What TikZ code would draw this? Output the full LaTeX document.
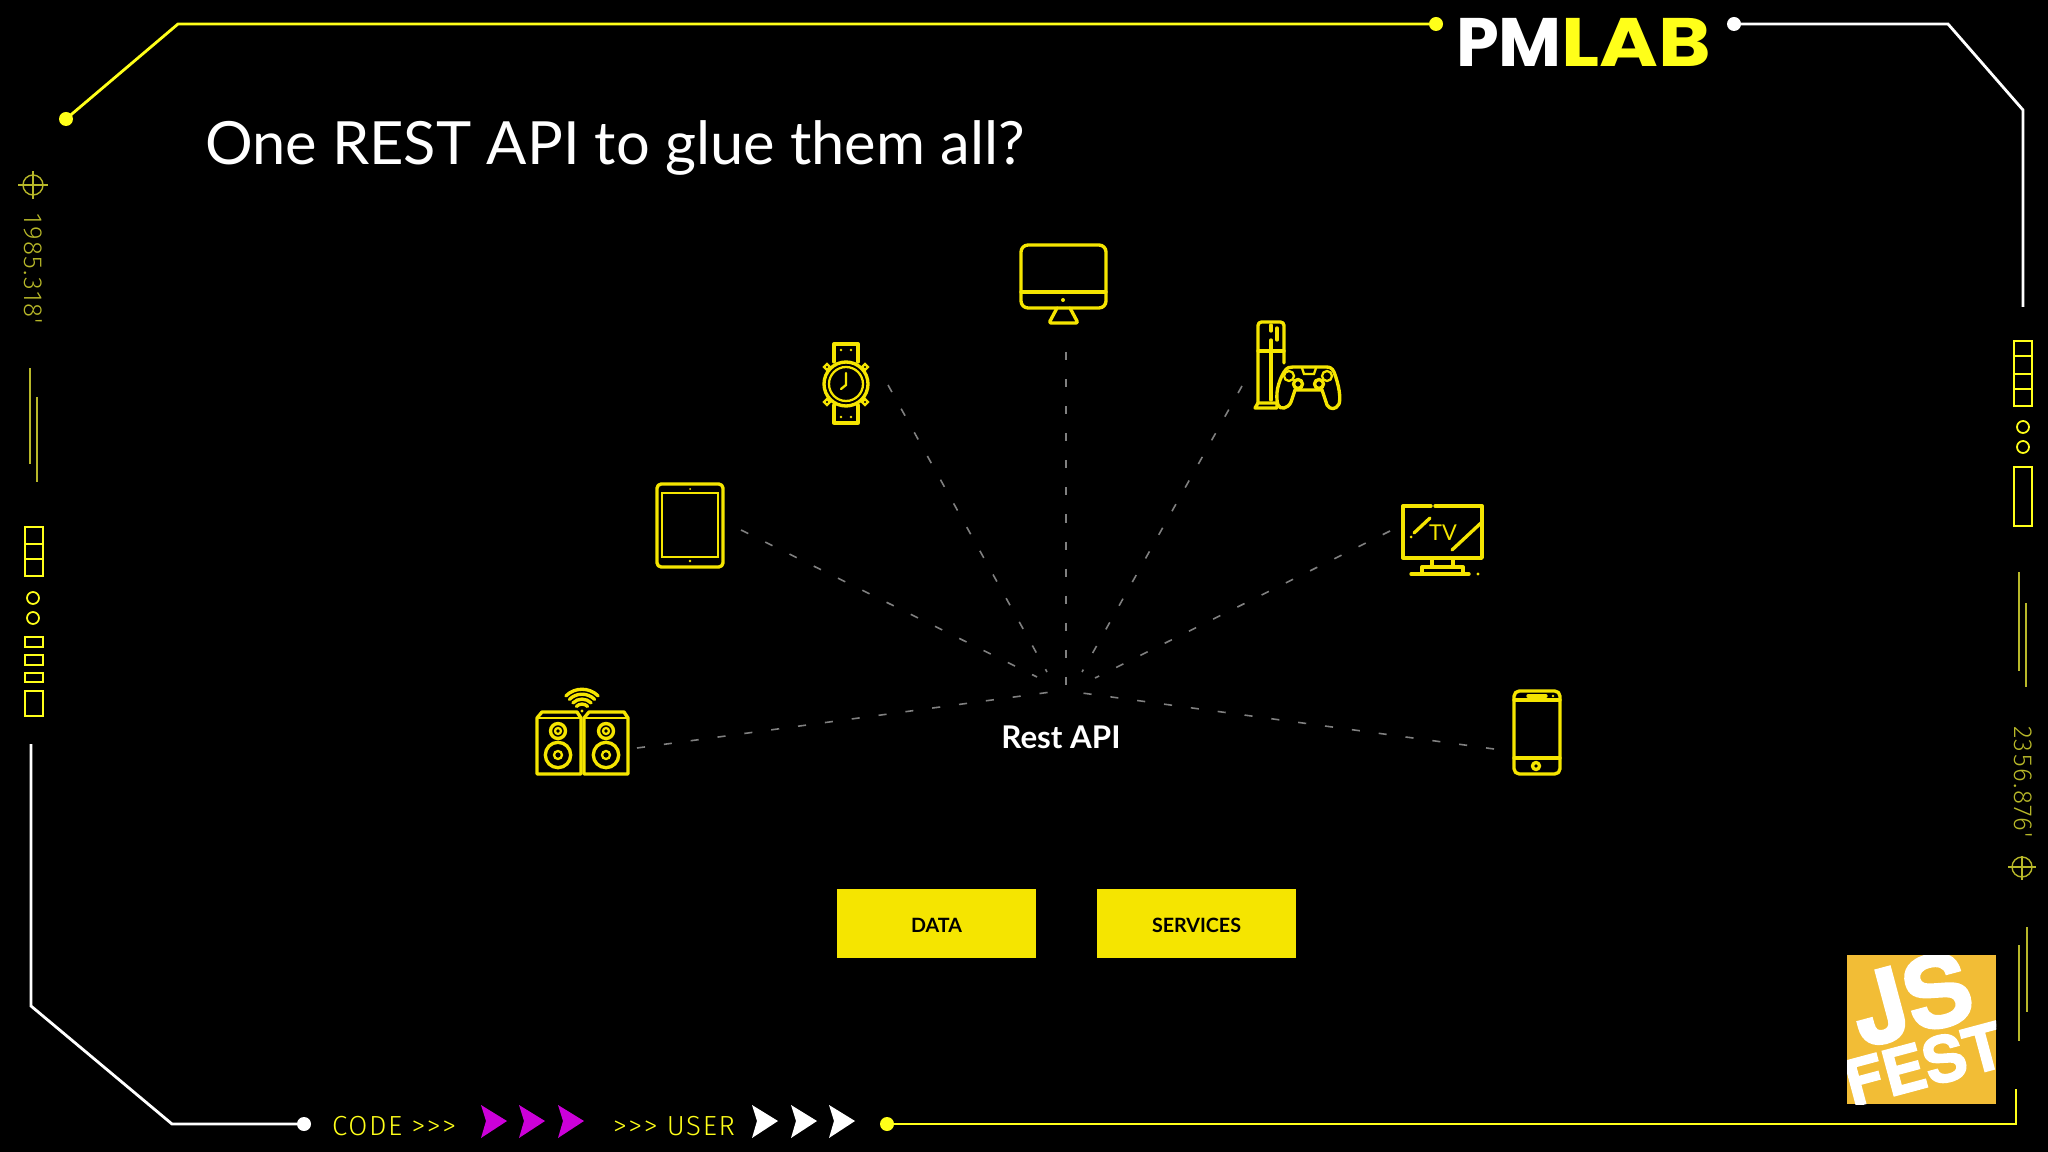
\documentclass[tikz,border=0pt]{standalone}
\usepackage{fontspec}
\setmainfont{Lato}
\newfontfamily\hudfont{Fira Sans Light}[LetterSpace=6]
\newfontfamily\logofont{Poppins}
\newfontfamily\festfont{TeX Gyre Heros}[BoldFeatures={FakeBold=2.2}]
\definecolor{coloricon}{rgb}{0.96, 0.90, 0.00}
\definecolor{colorframe}{rgb}{1.00, 1.00, 0.10}
\definecolor{colorhud}{rgb}{0.72, 0.72, 0.16}
\definecolor{colorray}{rgb}{0.50, 0.50, 0.50}
\definecolor{colorplay}{rgb}{0.80, 0.00, 0.85}
\definecolor{colorfest}{rgb}{0.95, 0.74, 0.21}

\begin{document}
\begin{tikzpicture}[x=0.01cm,y=-0.01cm,every node/.style={inner sep=0pt, outer sep=0pt},
  iconline/.style={draw=coloricon,line width=0.95pt,line join=round,line cap=round},
  iconfine/.style={draw=coloricon,line width=0.65pt,line cap=round},
  rayline/.style={draw=colorray,line width=0.45pt,dash pattern=on 2.3pt off 5.4pt},
  framewhite/.style={draw=white,line width=0.8pt},
  frameyellow/.style={draw=colorframe,line width=0.8pt},
  hudline/.style={draw=colorhud,line width=0.4pt},
  hudbox/.style={draw=colorframe,line width=0.5pt},
  apibox/.style={fill=coloricon,minimum width=199*0.01cm,minimum height=69*0.01cm,text=black,text height=5.2pt,text depth=0pt,font=\fontsize{5.6}{7}\selectfont\bfseries},
  hudtext/.style={text=colorhud,font=\hudfont\fontsize{7.4}{9}\selectfont}]

\fill[black] (0,0) rectangle (2048,1152);

% frame
\coordinate (dottopleft) at (66,119);
\coordinate (dottopmid) at (1436,24);
\coordinate (dottopright) at (1734,24);
\coordinate (dotbotleft) at (304,1124);
\coordinate (dotbotmid) at (887,1124);
\draw[frameyellow] (dottopleft) -- (178,24) -- (dottopmid);
\draw[framewhite] (dottopright) -- (1948,24) -- (2023,110) -- (2023,307);
\draw[framewhite] (31,744) -- (31,1006) -- (172,1124) -- (dotbotleft);
\draw[frameyellow] (dotbotmid) -- (2016,1124) -- (2016,1089);
\fill[colorframe] (dottopleft) circle (7);
\fill[colorframe] (dottopmid) circle (7);
\fill[white] (dottopright) circle (7);
\fill[white] (dotbotleft) circle (7);
\fill[colorframe] (dotbotmid) circle (7);

% logo
\node[anchor=base west,text=white,font=\logofont\fontsize{19.5}{24}\selectfont\bfseries] (logopm) at (1456,67) {PM};
\node[anchor=base west,text=colorframe,font=\logofont\fontsize{19.5}{24}\selectfont\bfseries] (logolab) at (1561,67) {\scalebox{1.165}[1]{LAB}};

% title
\node[anchor=base west,text=white,font=\fontsize{16.95}{20}\selectfont] (title) at (205,165) {One REST API to glue them all?};

% left strip
\draw[hudline] (33,171) -- (33,199);
\draw[hudline] (18,185) -- (48,185);
\draw[hudline] (33,185) circle (10);
\node[hudtext,rotate=-90] (codeleft) at (33,269) {1985.318'};
\draw[hudline] (30,368) -- (30,464);
\draw[hudline] (37,397) -- (37,482);
\draw[hudbox] (25,527) rectangle (43,576);
\draw[hudbox] (25,544) -- (43,544);
\draw[hudbox] (25,559) -- (43,559);
\draw[hudbox] (33,598) circle (6);
\draw[hudbox] (33,618) circle (6);
\draw[hudbox] (25,637) rectangle (43,647);
\draw[hudbox] (25,655) rectangle (43,665);
\draw[hudbox] (25,673) rectangle (43,682);
\draw[hudbox] (25,691) rectangle (43,716);

% right strip
\draw[hudbox] (2014,341) rectangle (2032,406);
\draw[hudbox] (2014,356) -- (2032,356);
\draw[hudbox] (2014,374) -- (2032,374);
\draw[hudbox] (2014,389) -- (2032,389);
\draw[hudbox] (2023,427) circle (6);
\draw[hudbox] (2023,447) circle (6);
\draw[hudbox] (2014,467) rectangle (2032,526);
\draw[hudline] (2019,572) -- (2019,671);
\draw[hudline] (2026,603) -- (2026,687);
\node[hudtext,rotate=-90] (coderight) at (2023,782) {2356.876'};
\draw[hudline] (2022,856) -- (2022,880);
\draw[hudline] (2008,867) -- (2036,867);
\draw[hudline] (2022,867) circle (10);
\draw[hudline] (2019,945) -- (2019,1041);
\draw[hudline] (2027,927) -- (2027,1012);

% bottom strip
\node[anchor=base west,text=colorframe,font=\hudfont\fontsize{7.85}{10}\selectfont] (codelabel) at (332,1135) {CODE >{}>{}>};
\node[anchor=base west,text=colorframe,font=\hudfont\fontsize{7.85}{10}\selectfont] (userlabel) at (613,1135) {>{}>{}> USER};
\foreach \x in {481,519,558}
  \fill[colorplay] (\x,1105) -- ({\x+26},1121) -- (\x,1138) -- ({\x+5},1121) -- cycle;
\foreach \x in {752,791,829}
  \fill[white] (\x,1105) -- ({\x+26},1121) -- (\x,1138) -- ({\x+5},1121) -- cycle;

% monitor
\draw[iconline,rounded corners=2pt] (1021,245) rectangle (1106,308);
\draw[iconline] (1021,292) -- (1106,292);
\fill[coloricon] (1063,300) circle (2);
\draw[iconline,rounded corners=0.6pt] (1057,308) -- (1049,323) -- (1078,323) -- (1070,308);

% watch
\draw[iconline] (834,362) -- (834,344) -- (858,344) -- (858,362);
\draw[iconline] (834,405) -- (834,423) -- (858,423) -- (858,405);
\draw[iconline] (846,384) circle (22);
\draw[iconfine] (846,384) circle (17);
\draw[iconfine] (846,373) -- (846,385) -- (841,389);
\foreach \x/\y in {827/367,865/367,827/402,865/402}
  \draw[iconfine] (\x-3,\y) -- (\x,\y-3) -- (\x+3,\y) -- (\x,\y+3) -- cycle;
\foreach \x/\y in {841/350,851/350,841/417,851/417}
  \fill[coloricon] (\x,\y) circle (1.4);

% console
\draw[iconline,rounded corners=1pt] (1258,403) -- (1258,322) -- (1284,322) -- (1284,363);
\draw[iconline] (1258,351) -- (1284,351);
\draw[iconline] (1271,325) -- (1271,331);
\draw[iconline] (1271,340) -- (1271,400);
\draw[iconline] (1277,328) -- (1277,340);
\draw[iconline] (1255,408) -- (1258,403) -- (1277,403) -- (1277,408) -- cycle;
\draw[iconline] (1284,372) .. controls (1287,367) and (1290,367) .. (1293,367) -- (1326,367) .. controls (1330,367) and (1332,368) .. (1334,372) .. controls (1339,385) and (1341,398) .. (1339,404) .. controls (1336,410) and (1330,410) .. (1327,405) -- (1322,390) -- (1295,390) -- (1291,402) .. controls (1288,409) and (1280,410) .. (1278,405) .. controls (1275,395) and (1278,382) .. (1284,372);
\draw[iconfine] (1289,376) circle (5);
\draw[iconfine] (1327,376) circle (5);
\draw[iconline] (1298,384) circle (4.5);
\draw[iconline] (1319,384) circle (4.5);
\draw[iconfine] (1302,368) -- (1304,374) -- (1314,374) -- (1316,368);

% tv
\draw[iconline] (1431,506) -- (1403,506) -- (1403,558) -- (1482,558) -- (1482,506) -- (1435,506);
\fill[coloricon] (1429,506) circle (1.4);
\draw[iconline] (1414,533) -- (1430,518);
\fill[coloricon] (1411,537) circle (1.5);
\draw[iconline] (1452,550) -- (1482,522);
\node[text=coloricon,font=\fontsize{6.2}{7}\selectfont] (tvlabel) at (1443,533) {TV};
\draw[iconline] (1432,558) -- (1432,567);
\draw[iconline] (1453,558) -- (1453,567);
\draw[iconline] (1422,574) -- (1422,567) -- (1463,567) -- (1463,574);
\draw[iconline] (1411,574) -- (1469,574);
\fill[coloricon] (1478,574) circle (1.6);

% tablet
\draw[iconline,rounded corners=1.2pt] (657,484) rectangle (723,567);
\draw[iconfine] (662,493) rectangle (718,557);
\fill[coloricon] (690,489) circle (1);
\fill[coloricon] (690,561) circle (1.3);

% speakers
\draw[iconline] (537,718) -- (542,712) -- (577,712) -- (581,718) -- (581,774) -- (537,774) -- cycle;
\draw[iconline] (584,718) -- (589,712) -- (624,712) -- (628,718) -- (628,774) -- (584,774) -- cycle;
\draw[iconfine] (537,718) -- (581,718);
\draw[iconfine] (584,718) -- (628,718);
\foreach \x in {558,606} {
  \draw[iconline] (\x,731) circle (7.5);
  \draw[iconfine] (\x,731) circle (3);
  \draw[iconline] (\x,755) circle (12.7);
  \draw[iconfine] (\x,755) circle (4);
}
\foreach \r in {8,13,18,23}
  \draw[iconline] ({582-\r*0.7},{712-\r*0.7}) to[bend left=45] ({582+\r*0.7},{712-\r*0.7});
\fill[coloricon] (582,711) circle (1.6);

% phone
\draw[iconline,rounded corners=1.5pt] (1514,691) rectangle (1560,774);
\draw[iconline] (1514,700) -- (1560,700);
\draw[iconline] (1514,758) -- (1560,758);
\draw[iconline] (1528,696) -- (1546,696);
\fill[coloricon] (1553,696) circle (1.3);
\draw[iconline] (1536,766) circle (3.5);

% rays
\coordinate (portmonitor) at (1066,352);
\coordinate (hubmonitor) at (1066,688);
\coordinate (portwatch) at (888,385);
\coordinate (hubwatch) at (1047,672);
\coordinate (portconsole) at (1242,386);
\coordinate (hubconsole) at (1082,672);
\coordinate (porttv) at (1390,531);
\coordinate (hubtv) at (1095,678);
\coordinate (porttablet) at (741,530);
\coordinate (hubtablet) at (1037,677);
\coordinate (portspeakers) at (637,748);
\coordinate (hubspeakers) at (1051,692);
\coordinate (portphone) at (1494,749);
\coordinate (hubphone) at (1082,693);
\draw[rayline] (portmonitor) -- (hubmonitor);
\draw[rayline] (portwatch) -- (hubwatch);
\draw[rayline] (portconsole) -- (hubconsole);
\draw[rayline] (porttv) -- (hubtv);
\draw[rayline] (porttablet) -- (hubtablet);
\draw[rayline] (portspeakers) -- (hubspeakers);
\draw[rayline] (portphone) -- (hubphone);

\node[text=white,font=\fontsize{8.9}{10}\selectfont\bfseries] (restapi) at (1061,737) {Rest API};
\node[apibox] (data) at (936.5,923) {DATA};
\node[apibox] (services) at (1196.5,923) {SERVICES};

% badge
\fill[colorfest] (1847,955) rectangle (1996,1104);
\begin{scope}
\clip (1847,955) rectangle (1996,1104);
\node[rotate=15,text=white,font=\festfont\fontsize{28}{30}\selectfont\bfseries] (festjs) at (1911,998) {JS};
\node[rotate=15,text=white,font=\festfont\fontsize{18}{22}\selectfont\bfseries] (festname) at (1924,1064) {FEST};
\end{scope}
\end{tikzpicture}
\end{document}
